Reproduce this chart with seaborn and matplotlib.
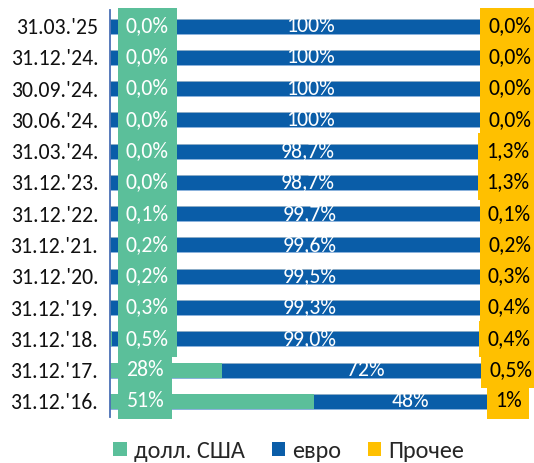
import matplotlib
matplotlib.use("Agg")
import matplotlib.pyplot as plt
from matplotlib import font_manager
from matplotlib.patches import Patch
import seaborn as sns
import numpy as np

dates = ["31.03.'25", "31.12.'24.", "30.09.'24.", "30.06.'24.", "31.03.'24.",
         "31.12.'23.", "31.12.'22.", "31.12.'21.", "31.12.'20.", "31.12.'19.",
         "31.12.'18.", "31.12.'17.", "31.12.'16."]
usd = [0.0, 0.0, 0.0, 0.0, 0.0, 0.0, 0.1, 0.2, 0.2, 0.3, 0.5, 28, 51]
eur = [100, 100, 100, 100, 98.7, 98.7, 99.7, 99.6, 99.5, 99.3, 99.0, 72, 48]
other = [0.0, 0.0, 0.0, 0.0, 1.3, 1.3, 0.1, 0.2, 0.3, 0.4, 0.4, 0.5, 1]
usd_lbl = ["0,0%", "0,0%", "0,0%", "0,0%", "0,0%", "0,0%", "0,1%", "0,2%", "0,2%",
           "0,3%", "0,5%", "28%", "51%"]
eur_lbl = ["100%", "100%", "100%", "100%", "98,7%", "98,7%", "99,7%", "99,6%",
           "99,5%", "99,3%", "99,0%", "72%", "48%"]
oth_lbl = ["0,0%", "0,0%", "0,0%", "0,0%", "1,3%", "1,3%", "0,1%", "0,2%", "0,3%",
           "0,4%", "0,4%", "0,5%", "1%"]
series = ["долл. США", "евро", "Прочее"]

GREEN = "#5BBF9A"
BLUE = "#0A5DA8"
YELLOW = "#FFC000"

sns.set_theme(style="white")
names = {f.name for f in font_manager.fontManager.ttflist}
if "Carlito" in names:
    fam, fs, lfs = "Carlito", 15.7, 17.5
else:
    fam, fs, lfs = "Open Sans", 13.5, 15
plt.rcParams["font.family"] = [fam, "DejaVu Sans"]

fig = plt.figure(figsize=(5.34, 4.63), dpi=100)
ax = fig.add_axes([110 / 534, 1 - 417 / 463, 400 / 534, 406.6 / 463])

usd_a = np.array(usd, dtype=float)
eur_a = np.array(eur, dtype=float)
oth_a = np.array(other, dtype=float)
total = usd_a + eur_a + oth_a
ue = usd_a + eur_a

sns.barplot(x=total, y=dates, color=YELLOW, width=0.48, orient="h", ax=ax,
            saturation=1, linewidth=0)
sns.barplot(x=ue, y=dates, color=BLUE, width=0.48, orient="h", ax=ax,
            saturation=1, edgecolor="#8DB3DE", linewidth=0.6)
sns.barplot(x=usd_a, y=dates, color=GREEN, width=0.48, orient="h", ax=ax,
            saturation=1, linewidth=0)

ax.set_xlim(0, 100)
ax.set_ylim(len(dates) - 0.5, -0.5)
ax.set_xlabel("")
ax.set_ylabel("")
ax.set_xticks([])
for s in ["top", "right", "bottom"]:
    ax.spines[s].set_visible(False)
ax.spines["left"].set_color("#4A6FB5")
ax.spines["left"].set_linewidth(1.3)
ax.tick_params(axis="y", length=0, pad=8.5, labelsize=fs, labelcolor="#111111")

for i in range(len(dates)):
    ax.annotate(usd_lbl[i], xy=(0, i), xytext=(16, 0), textcoords="offset pixels",
                ha="left", va="center", color="white", fontsize=fs,
                annotation_clip=False,
                bbox=dict(boxstyle="square,pad=0.37", fc=GREEN, ec="none"))
    ax.text(usd_a[i] + eur_a[i] / 2, i, eur_lbl[i], ha="center", va="center",
            color="white", fontsize=fs)
    ax.text(min(ue[i] + oth_a[i] / 2, 100.2), i, oth_lbl[i], ha="center",
            va="center", color="black", fontsize=fs, clip_on=False,
            bbox=dict(boxstyle="square,pad=0.37", fc=YELLOW, ec="none"))

handles = [Patch(facecolor=c, edgecolor="none") for c in (GREEN, BLUE, YELLOW)]
fig.legend(handles, series, loc="center", bbox_to_anchor=(289 / 534, 1 - 451 / 463),
           ncol=3, frameon=False, fontsize=lfs, handlelength=0.55, handleheight=0.55,
           handletextpad=0.3, columnspacing=1.1, borderpad=0)

fig.savefig("out.png", dpi=100)
